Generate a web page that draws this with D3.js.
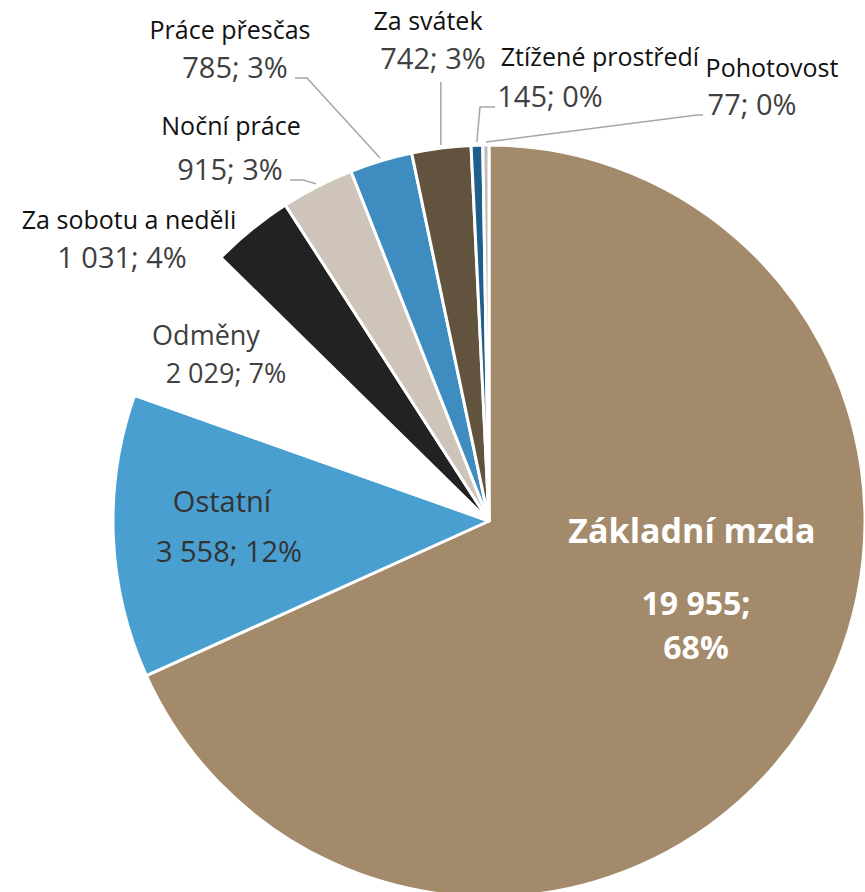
<!DOCTYPE html>
<html>
<head>
<meta charset="utf-8">
<script src="https://cdn.jsdelivr.net/npm/d3@7"></script>
<style>
  html, body { margin: 0; padding: 0; background: #fff; }
  svg { display: block; }
  text { font-family: "Open Sans", "Noto Sans", sans-serif; }
</style>
</head>
<body>
<svg id="chart" width="865" height="892"></svg>
<script>
// Složky mzdy (Kč) – pořadí po směru hodinových ručiček od 12 hodin
const categories = ["Základní mzda", "Ostatní", "Odměny", "Za sobotu a neděli", "Noční práce",
                    "Práce přesčas", "Za svátek", "Ztížené prostředí", "Pohotovost"];
const values = [19955, 3558, 2029, 1031, 915, 785, 742, 145, 77];
const valueLabels = ["19 955", "3 558", "2 029", "1 031", "915", "785", "742", "145", "77"];
const colors = ["#A38A6A", "#4A9FD1", "#FFFFFF", "#222222", "#CEC4BA",
                "#3F8DC0", "#62533F", "#1F5F8C", "#BDBDBD"];

// Rozložení popisků: střed textu, účaří názvu a hodnoty, velikosti písma, lomený bod odkazové čáry
const labelLayout = [
  { x: 692, nameY: 543, valY: 615, pctY: 659, inside: true, bold: true, nameSize: 34, valSize: 32, valX: 696, fill: "#FFFFFF" },
  { x: 222, nameY: 512, valY: 562, inside: true, nameSize: 29, valSize: 29, valX: 229, fill: "#333333" },
  { x: 206, nameY: 345, valY: 383, nameSize: 27, valSize: 27, valX: 226, nameFill: "#404040" },
  { x: 129, nameY: 229, valY: 268, nameSize: 25, valSize: 29, valX: 122 },
  { x: 231, nameY: 135, valY: 180, nameSize: 25, valSize: 29, valX: 230, elbow: [303, 180], lineFrom: [290, 180] },
  { x: 230, nameY: 39, valY: 78, nameSize: 25, valSize: 29, valX: 235, elbow: [307, 78], lineFrom: [295, 78] },
  { x: 428, nameY: 30, valY: 69, nameSize: 25, valSize: 29, valX: 433, vertical: true },
  { x: 600, nameY: 66, valY: 107, nameSize: 25, valSize: 29, valX: 550, elbow: [480, 107], lineFrom: [495, 107] },
  { x: 772, nameY: 77, valY: 115, nameSize: 25, valSize: 29, valX: 752, elbow: [697, 115], lineFrom: [703, 115] }
];

const cx = 489, cy = 521, radius = 376;
const total = d3.sum(values);
const pct = v => Math.round(v / total * 100) + "%";

const svg = d3.select("#chart");
const g = svg.append("g").attr("transform", `translate(${cx},${cy})`);

const pie = d3.pie().sort(null).value(d => d.value);
const arc = d3.arc().innerRadius(0).outerRadius(radius);
const lineArc = d3.arc().innerRadius(radius + 3).outerRadius(radius + 3);

const data = categories.map((c, i) => ({ name: c, value: values[i], label: valueLabels[i], color: colors[i], layout: labelLayout[i] }));
const arcs = pie(data);

// Výseče
g.selectAll("path.slice")
  .data(arcs)
  .join("path")
  .attr("class", "slice")
  .attr("d", arc)
  .attr("fill", d => d.data.color)
  .attr("stroke", "#FFFFFF")
  .attr("stroke-width", 3)
  .attr("stroke-linejoin", "round");

// Odkazové čáry k vnějším popiskům
const lines = svg.append("g");
arcs.forEach(a => {
  const L = a.data.layout;
  if (L.inside) return;
  const [px, py] = lineArc.centroid(a);
  const end = [cx + px, cy + py];
  let pts = null;
  if (L.vertical) {
    pts = [[end[0], L.valY + 13], end];
  } else if (L.elbow) {
    pts = [L.lineFrom, L.elbow, end];
  }
  if (pts) {
    lines.append("polyline")
      .attr("points", pts.map(p => p.join(",")).join(" "))
      .attr("fill", "none")
      .attr("stroke", "#A6A6A6")
      .attr("stroke-width", 1.5);
  }
});

// Popisky
const labels = svg.append("g");
arcs.forEach(a => {
  const d = a.data, L = d.layout;
  const nameFill = L.fill || L.nameFill || "#111111";
  const valFill = L.fill || "#404040";
  labels.append("text")
    .attr("x", L.x).attr("y", L.nameY)
    .attr("text-anchor", "middle")
    .attr("font-size", L.nameSize)
    .attr("font-weight", L.bold ? 700 : 400)
    .attr("fill", nameFill)
    .text(d.name);
  if (L.pctY) {
    labels.append("text")
      .attr("x", L.valX).attr("y", L.valY)
      .attr("text-anchor", "middle")
      .attr("font-size", L.valSize)
      .attr("font-weight", 700)
      .attr("fill", valFill)
      .text(d.label + ";");
    labels.append("text")
      .attr("x", L.valX).attr("y", L.pctY)
      .attr("text-anchor", "middle")
      .attr("font-size", L.valSize)
      .attr("font-weight", 700)
      .attr("fill", valFill)
      .text(pct(d.value));
  } else {
    labels.append("text")
      .attr("x", L.valX).attr("y", L.valY)
      .attr("text-anchor", "middle")
      .attr("font-size", L.valSize)
      .attr("fill", valFill)
      .text(d.label + "; " + pct(d.value));
  }
});
</script>
</body>
</html>
